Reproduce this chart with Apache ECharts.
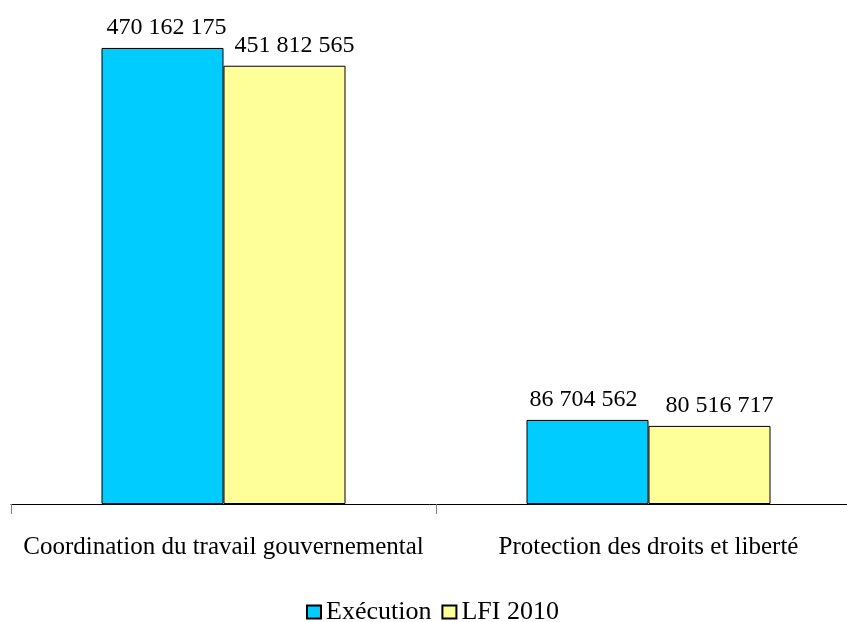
<!DOCTYPE html>
<html>
<head>
<meta charset="utf-8">
<script src="https://cdn.jsdelivr.net/npm/echarts@6/dist/echarts.min.js"></script>
<style>
  html, body { margin: 0; padding: 0; background: #ffffff; }
  #chart { width: 847px; height: 622px; }
</style>
</head>
<body>
<div id="chart"></div>
<script>
// Programmes: executed spending vs. initial finance law 2010
const categories = ['Coordination du travail gouvernemental', 'Protection des droits et liberté'];
const seriesNames = ['Exécution', 'LFI 2010'];
const execution = [470162175, 86704562];
const lfi2010 = [451812565, 80516717];

const FONT = '"Liberation Serif", "Times New Roman", serif';

// French-style thousands grouping with spaces
function fmt(v) {
  return String(v).replace(/\B(?=(\d{3})+(?!\d))/g, ' ');
}

const chart = echarts.init(document.getElementById('chart'), null, { renderer: 'canvas' });

const labelBase = {
  show: true,
  position: 'top',
  distance: 8,
  color: '#000000',
  fontFamily: FONT,
  fontSize: 24,
  formatter: p => fmt(p.value)
};

chart.setOption({
  animation: false,
  backgroundColor: '#ffffff',
  // plot area runs past the right edge of the canvas
  grid: { left: 11, width: 850, top: 19, height: 485, outerBoundsMode: 'none', containLabel: false },
  legend: {
    left: 306,
    top: 599,
    padding: 0,
    itemWidth: 14,
    itemHeight: 13,
    itemGap: 10,
    textStyle: { fontFamily: FONT, fontSize: 26, color: '#000000' },
    data: seriesNames.map(n => ({ name: n, icon: 'rect' }))
  },
  xAxis: {
    type: 'category',
    data: categories,
    axisLine: { lineStyle: { color: '#000000', width: 1 } },
    axisTick: { show: true, length: 10, lineStyle: { color: '#808080' } },
    axisLabel: { interval: 0, fontFamily: FONT, fontSize: 25, color: '#000000', margin: 31 }
  },
  yAxis: {
    type: 'value',
    min: 0,
    max: 500000000,
    show: false,
    splitLine: { show: false }
  },
  series: [
    {
      name: seriesNames[0],
      type: 'bar',
      barWidth: 122,
      barGap: '0%',
      itemStyle: { color: '#00CCFF', borderColor: '#000000', borderWidth: 1 },
      label: labelBase,
      data: execution.map((v, i) => ({
        value: v,
        label: { offset: [i === 0 ? 4 : -4, 0] }
      }))
    },
    {
      name: seriesNames[1],
      type: 'bar',
      barWidth: 122,
      itemStyle: { color: '#FFFF99', borderColor: '#000000', borderWidth: 1 },
      label: Object.assign({}, labelBase, { offset: [10, 0] }),
      data: lfi2010
    }
  ]
});
</script>
</body>
</html>
